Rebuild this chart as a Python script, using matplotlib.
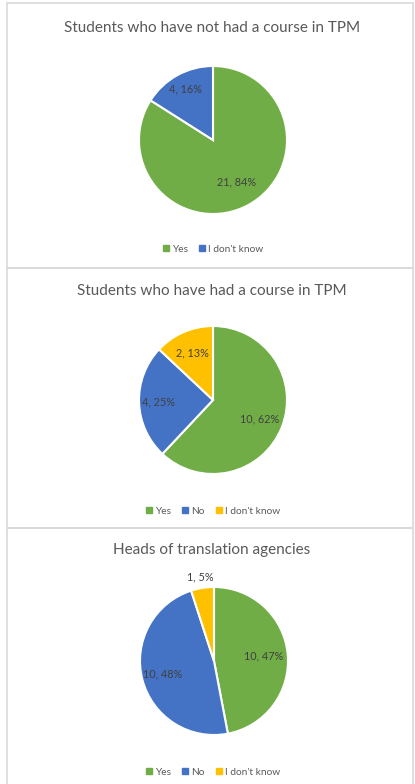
import matplotlib
matplotlib.use("Agg")
import matplotlib.pyplot as plt
import numpy as np
from matplotlib.patches import Rectangle

# --- data ---
titles = ["Students who have not had a course in TPM",
          "Students who have had a course in TPM",
          "Heads of translation agencies"]
cats_1 = ["Yes", "I don't know"]
counts_1 = [21, 4]
pcts_1 = [84, 16]
cats_2 = ["Yes", "No", "I don't know"]
counts_2 = [10, 4, 2]
pcts_2 = [62, 25, 13]
cats_3 = ["Yes", "No", "I don't know"]
counts_3 = [10, 10, 1]
pcts_3 = [47, 48, 5]

color_map = {"Yes": "#70AD47", "No": "#4472C4", "I don't know": "#FFC000"}
color_map_1 = {"Yes": "#70AD47", "I don't know": "#4472C4"}

W, H = 415, 784
fig = plt.figure(figsize=(W / 100, H / 100), dpi=100)
plt.rcParams['font.family'] = ['Lato', 'DejaVu Sans']

def fx(x):
    return x / W

def fy(y):
    return 1 - y / H

# panel borders
for top, bottom in [(3, 268), (268, 528), (528, 790)]:
    fig.patches.append(Rectangle((fx(6.5), fy(bottom)), fx(406), (bottom - top) / H,
                                 transform=fig.transFigure, fill=False,
                                 edgecolor="#D9D9D9", linewidth=1.2))

def draw_panel(title, cats, counts, pcts, colors, cx, cy, r, title_y, legend_y, label_r):
    ax = fig.add_axes([fx(cx - r), fy(cy + r), 2 * r / W, 2 * r / H])
    wedges, _ = ax.pie(pcts, colors=colors, startangle=90, counterclock=False,
                       radius=1, wedgeprops=dict(edgecolor="white", linewidth=1.5))
    ax.set_xlim(-1, 1)
    ax.set_ylim(-1, 1)
    ax.set_aspect("equal")
    ax.axis("off")
    for w, n, p, lr in zip(wedges, counts, pcts, label_r):
        ang = np.deg2rad((w.theta1 + w.theta2) / 2)
        ax.text(lr * np.cos(ang), lr * np.sin(ang), f"{n}, {p}%",
                ha="center", va="center", fontsize=7.8, color="#404040")
    fig.text(fx(212), fy(title_y), title, ha="center", va="center",
             fontsize=11, color="#595959")
    handles = [plt.Line2D([], [], marker="s", linestyle="", markersize=4,
                          color=c) for c in colors]
    fig.legend(handles, cats, loc="center", bbox_to_anchor=(fx(213), fy(legend_y)),
               ncol=len(cats), frameon=False, fontsize=7.3, labelcolor="#595959",
               handlelength=0.6, handletextpad=0.3, columnspacing=1.1)

draw_panel(titles[0], cats_1, counts_1, pcts_1, [color_map_1[c] for c in cats_1],
           213, 140, 74, 28, 249, [0.65, 0.78])
draw_panel(titles[1], cats_2, counts_2, pcts_2, [color_map[c] for c in cats_2],
           213, 400, 74, 291, 511, [0.68, 0.74, 0.7])
draw_panel(titles[2], cats_3, counts_3, pcts_3, [color_map[c] for c in cats_3],
           214, 661, 74, 550, 772, [0.67, 0.72, 1.15])

fig.savefig("out.png", dpi=100)
